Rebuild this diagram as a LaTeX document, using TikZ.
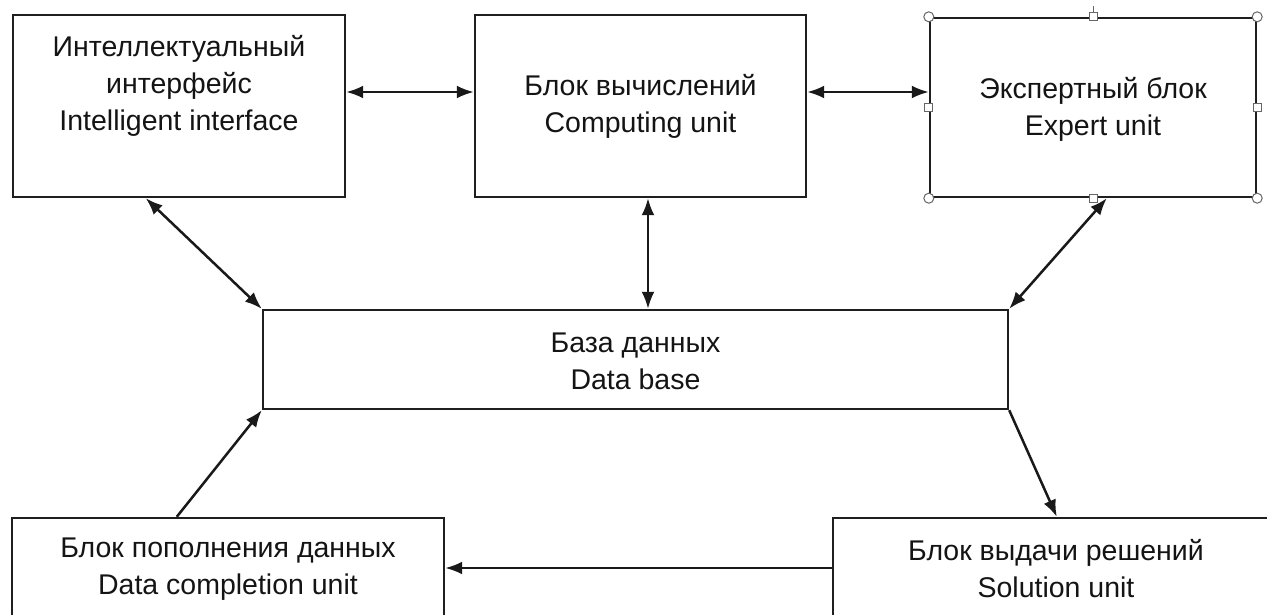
\documentclass[tikz,border=0pt]{standalone}
\usepackage{fontspec}
\setmainfont{Liberation Sans}
\usetikzlibrary{arrows.meta,calc}
\begin{document}
\begin{tikzpicture}[x=1pt,y=1pt,
  box/.style={draw=black!88, line width=2.4pt, rectangle, inner sep=0pt},
  txt/.style={align=center, text=black!92, font=\fontsize{28.5}{37}\selectfont},
  arr/.style={line width=2.5pt, draw=black!90, -{Latex[length=17pt,width=13pt]}},
  darr/.style={line width=2.5pt, draw=black!90, {Latex[length=17pt,width=13pt]}-{Latex[length=17pt,width=13pt]}},
  handle/.style={draw=black!60, fill=white, line width=1pt}]
\useasboundingbox (0,0) rectangle (1267,-614);
\clip (0,0) rectangle (1267,-614);
\fill[white] (0,0) rectangle (1267,-614);
% boxes
\node[box, minimum width=332, minimum height=182] (ii) at (179,-106) {};
\node[txt] (iit) at (179,-86) {Интеллектуальный\\интерфейс\\Intelligent interface};
\node[box, minimum width=331, minimum height=182] (cu) at (640.5,-106) {};
\node[txt] (cut) at (640.5,-106) {Блок вычислений\\Computing unit};
\node[box, minimum width=326, minimum height=179] (eu) at (1093,-107.5) {};
\node[txt] (eut) at (1093,-109) {Экспертный блок\\Expert unit};
\node[box, minimum width=745, minimum height=99] (db) at (635.5,-359.5) {};
\node[txt] (dbt) at (635.5,-361) {База данных\\Data base};
\node[box, minimum width=432, minimum height=104] (dc) at (228,-570) {};
\node[txt] (dct) at (228,-569) {Блок пополнения данных\\Data completion unit};
\node[box, minimum width=446, minimum height=104] (su) at (1056,-570) {};
\node[txt] (sut) at (1056,-569) {Блок выдачи решений\\Solution unit};
% selection handles on expert unit
\coordinate (tick) at (1093,-6);
\draw[draw=black!60, line width=0.8pt] (eu.north) -- (tick);
\foreach \a in {north west,north east,south west,south east}
  \draw[handle] (eu.\a) circle (5pt);
\foreach \a in {north,south,west,east}
  \draw[handle] ($(eu.\a)+(-4,-4)$) rectangle ++(8,8);
% connectors
\coordinate (cub) at ([xshift=7.5pt]cu.south);
\draw[darr] ([xshift=134pt]ii.south west) -- (db.north west);
\draw[darr] ([yshift=14pt]ii.east) -- ([yshift=14pt]ii.east -| cu.west);
\draw[darr] ([yshift=14pt]cu.east) -- ([yshift=14pt]cu.east -| eu.west);
\draw[darr] (cub) -- (cub |- db.north);
\draw[darr] ([xshift=178pt]eu.south west) -- (db.north east);
\draw[arr] ([xshift=166pt]dc.north west) -- (db.south west);
\draw[arr] (db.south east) -- ([xshift=225pt]su.north west);
\draw[arr] (su.west |- 0,-568) -- (dc.east |- 0,-568);
\end{tikzpicture}
\end{document}
